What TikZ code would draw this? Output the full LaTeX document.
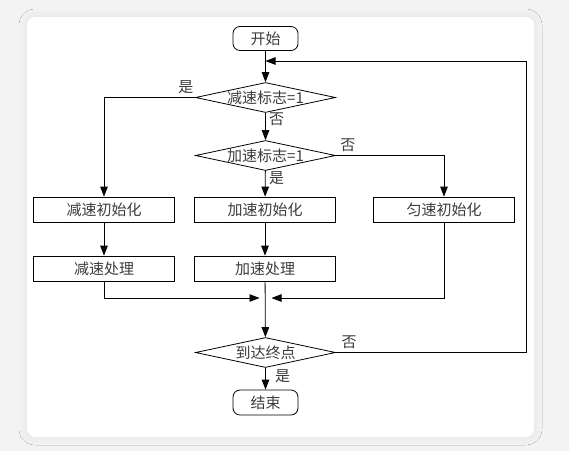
\documentclass[tikz,border=0pt]{standalone}
\usepackage{fontspec}
\newfontfamily\cjk{Noto Sans CJK SC}
\usepackage{tikz}
\usetikzlibrary{shapes.geometric,arrows.meta,calc,shadows.blur}
\definecolor{pagegrey}{RGB}{243,243,243}
\definecolor{textgrey}{RGB}{60,60,60}
\newcommand{\flowfont}{\cjk\fontsize{15}{17}\selectfont}
\tikzset{
    termbox/.style={draw, rounded corners=7pt, minimum width=65pt,
                    minimum height=24pt, inner sep=0pt,
                    font=\flowfont, text=textgrey},
    procbox/.style={draw, minimum width=141pt, minimum height=25pt,
                    inner sep=0pt, font=\flowfont, text=textgrey},
    decbox/.style={draw, diamond, aspect=4.67, inner sep=0pt,
                   inner xsep=-4pt, minimum width=140pt,
                   minimum height=30pt, font=\flowfont, text=textgrey},
    lbl/.style={font=\flowfont, text=textgrey},
}

\begin{document}
\begin{tikzpicture}[
    x=1pt, y=-1pt, line width=0.8pt,
    arr/.style={-{Triangle[length=10pt,width=7.5pt]}, line width=0.8pt}
]
    \useasboundingbox (0,0) rectangle (569,451);
    \fill[pagegrey] (0,0) rectangle (569,451);
    \fill[white, rounded corners=8pt,
          blur shadow={shadow xshift=0pt, shadow yshift=0pt,
                       shadow blur radius=8pt, shadow opacity=8}]
        (27,17) rectangle (534,437);

    \node[termbox] (start) at (265.5,38.5) {开始};
    \node[decbox] (dec1) at (265.5,97.5) {减速标志=1};
    \node[decbox] (dec2) at (265.5,155.5) {加速标志=1};
    \node[procbox] (initdec) at (104,209.5) {减速初始化};
    \node[procbox] (initacc) at (265,209.5) {加速初始化};
    \node[procbox] (initcon) at (444,209.5) {匀速初始化};
    \node[procbox] (procdec) at (104,268.5) {减速处理};
    \node[procbox] (procacc) at (265,268.5) {加速处理};
    \node[decbox] (dec3) at (265.5,352.5) {到达终点};
    \node[termbox, minimum height=25pt] (stop) at (265.5,402.5) {结束};

    \coordinate (merge) at (265.5,298);
    \coordinate (loopcorner) at (526,61);

    \draw[arr] (start) -- (dec1);
    \draw[arr] (dec1.west) -| node[lbl, above, pos=0.05] {是} (initdec.north);
    \draw[arr] (dec1) -- node[lbl, right, pos=0.25] {否} (dec2);
    \draw[arr] (dec2.east) -| node[lbl, above, pos=0.055] {否} (initcon.north);
    \draw[arr] (dec2) -- node[lbl, right, pos=0.3] {是} (initacc);
    \draw[arr] (initdec) -- (procdec);
    \draw[arr] (initacc) -- (procacc);
    \draw[arr, shorten >=6pt] (procdec.south) |- (merge);
    \draw[arr, shorten >=6pt] (initcon.south) |- (merge);
    \draw[arr] (procacc) -- (dec3);
    \draw[arr] (dec3.east) -| node[lbl, above, pos=0.035] {否} (loopcorner)
        -- (start.south |- loopcorner);
    \draw[arr] (dec3) -- node[lbl, right, pos=0.4, xshift=6pt] {是} (stop);
\end{tikzpicture}
\end{document}
